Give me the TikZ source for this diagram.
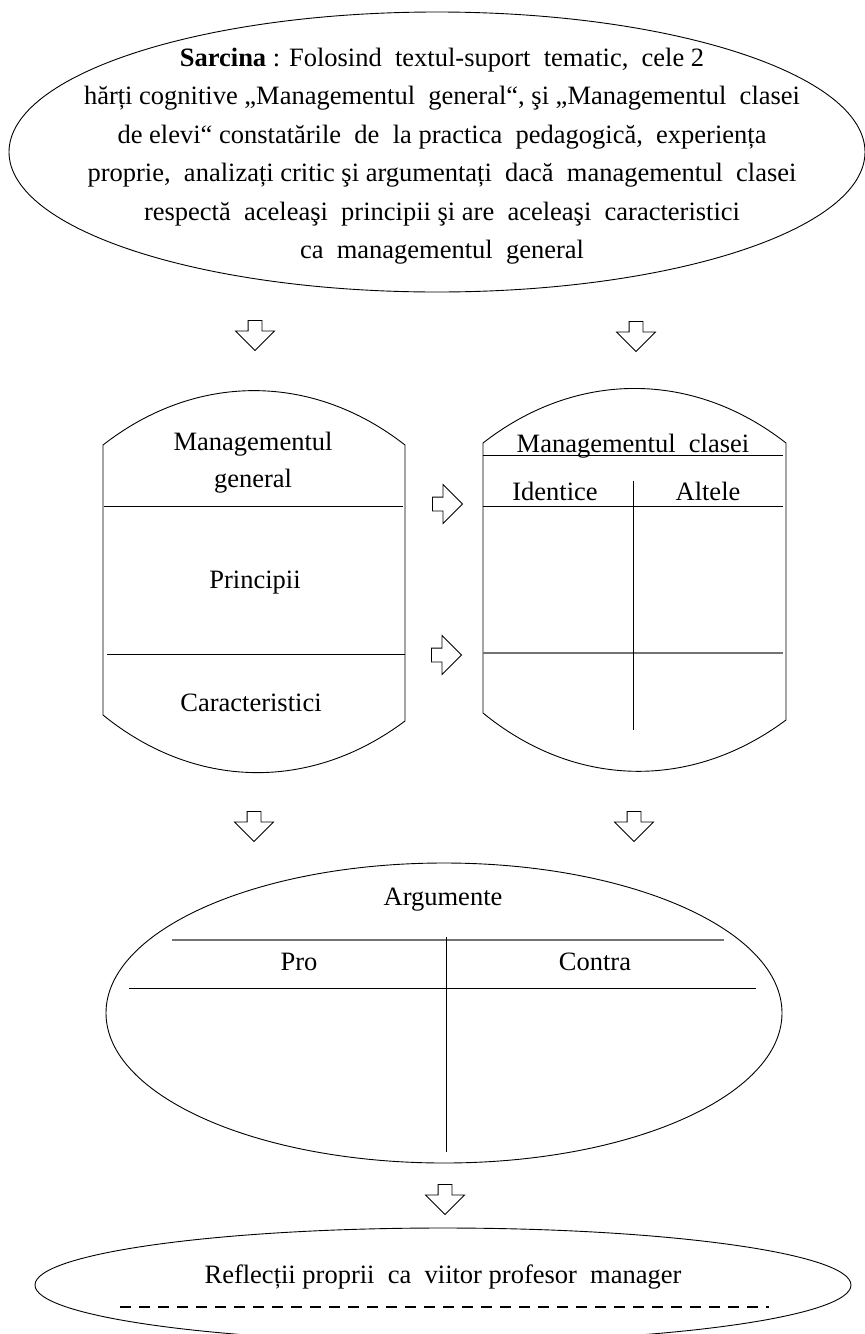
\documentclass[tikz,border=0pt]{standalone}
\usepackage{fontspec}
\setmainfont{Liberation Serif}
\usepackage{tikz}
\usetikzlibrary{shapes.geometric, shapes.arrows}

\begin{document}
\begin{tikzpicture}[x=1pt, y=-1pt, line width=0.9pt,
  txt/.style={font=\fontsize{26.5}{38.5}\selectfont, inner sep=0pt},
  lbl/.style={txt, anchor=base},
  oval/.style={draw, ellipse, inner sep=0pt},
  blockarrow/.style={draw, single arrow, single arrow head extend=12.5pt, minimum width=38pt, minimum height=30pt, inner sep=6.5pt, line width=0.8pt},
  grayline/.style={draw=black!55, line width=1.3pt},
  dashline/.style={line width=1.6pt, dash pattern=on 11pt off 8pt}]
\useasboundingbox (0,0) rectangle (865,1334);

% task
\node[oval, minimum width=856pt, minimum height=280pt] (task) at (437,152) {};
\node[txt, align=center] (tasktxt) at (442,156) {\textbf{Sarcina} : Folosind~~textul-suport~~tematic,~~cele 2\\
  hărți cognitive „Managementul~~general“, şi „Managementul~~clasei\\
  de elevi“ constatările~~de~~la practica~~pedagogică,~~experiența\\
  proprie,~~analizați critic şi argumentați~~dacă~~managementul~~clasei\\
  respectă~~aceleaşi~~principii şi are~~aceleaşi~~caracteristici\\
  ca~~managementul~~general};
\node[blockarrow, shape border rotate=270] (dL1) at (255,332) {};
\node[blockarrow, shape border rotate=270] (dR1) at (636,333) {};

% managementul general
\draw (103,445) to[bend left=38] (405,445) -- (405,721) to[bend left=38] (103,715) -- cycle;
\draw (104,506) -- (403,506);
\draw (107,654) -- (405,654);
\node[txt, align=center, font=\fontsize{26.5}{37}\selectfont] (mg) at (253,463) {Managementul\\general};
\node[lbl] (princ) at (255,588) {Principii};
\node[lbl] (carac) at (251,711) {Caracteristici};

\node[blockarrow] (rA) at (444,504) {};
\node[blockarrow] (rB) at (443,655) {};

% managementul clasei
\draw (483,443) to[bend left=38] (786,443) -- (786,720) to[bend left=38] (483,713) -- cycle;
\draw (483,455) -- (783,455);
\draw (483,506) -- (783,506);
\draw[grayline] (483,653) -- (783,653);
\draw (633,481) -- (633,730);
\node[lbl] (mc) at (633,452) {Managementul~~clasei};
\node[lbl] (ident) at (555,500) {Identice};
\node[lbl] (alt) at (708,500) {Altele};

\node[blockarrow, shape border rotate=270] (dL2) at (254,823) {};
\node[blockarrow, shape border rotate=270] (dR2) at (634,823) {};

% argumente
\node[oval, minimum width=676pt, minimum height=300pt] (args) at (444,1013) {};
\node[lbl] (argtxt) at (443,905) {Argumente};
\draw[grayline] (172,940) -- (724,940);
\draw (129,988) -- (756,988);
\draw (446,937) -- (446,1152);
\node[lbl] (pro) at (299,970) {Pro};
\node[lbl] (contra) at (595,970) {Contra};

\node[blockarrow, shape border rotate=270] (dC) at (445,1196) {};

% reflectii
\node[oval, minimum width=816pt, minimum height=114pt] (refl) at (443,1285) {};
\node[lbl] (refltxt) at (443,1283) {Reflecții proprii~~ca~~viitor profesor~~manager};
\draw[dashline] (120,1307) -- (769,1307);

\end{tikzpicture}
\end{document}
